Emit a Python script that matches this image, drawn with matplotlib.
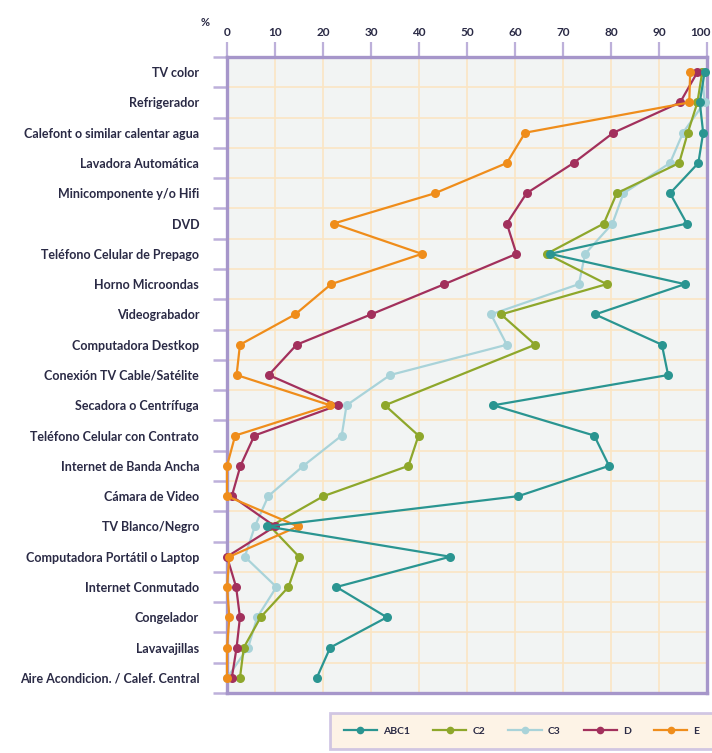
import numpy as np
import matplotlib
matplotlib.use("Agg")
import matplotlib.pyplot as plt
from matplotlib.lines import Line2D
from matplotlib.transforms import ScaledTranslation

categories = [
    "TV color", "Refrigerador", "Calefont o similar calentar agua",
    "Lavadora Automática", "Minicomponente y/o Hifi", "DVD",
    "Teléfono Celular de Prepago", "Horno Microondas", "Videograbador",
    "Computadora Destkop", "Conexión TV Cable/Satélite", "Secadora o Centrífuga",
    "Teléfono Celular con Contrato", "Internet de Banda Ancha", "Cámara de Video",
    "TV Blanco/Negro", "Computadora Portátil o Laptop", "Internet Conmutado",
    "Congelador", "Lavavajillas", "Aire Acondicion. / Calef. Central",
]

abc1 = [99.5, 98.5, 99.2, 98.2, 92.3, 95.8, 67.3, 95.4, 76.7, 90.6, 91.9,
        55.5, 76.5, 79.6, 60.7, 8.3, 46.5, 22.8, 33.3, 21.5, 18.7]
c2 = [99, 98, 96, 94.2, 81.2, 78.5, 66.6, 79.1, 57.1, 64.2, np.nan,
      32.9, 39.9, 37.8, 20.1, 9, 15, 12.8, 7, 3.5, 2.7]
c3 = [99, 99.5, 95, 92.3, 82.6, 80.3, 74.6, 73.3, 55, 58.3, 34,
      24.9, 23.9, 15.9, 8.6, 5.8, 3.7, 10.3, 6.3, 4.4, 0]
d = [98, 94.4, 80.5, 72.2, 62.4, 58.3, 60.3, 45.3, 30, 14.5, 8.7,
     23.1, 5.7, 2.8, 1.0, 10, 0, 1.9, 2.7, 2.0, 1]
e = [96.5, 96.3, 62.1, 58.3, 43.3, 22.2, 40.6, 21.7, 14.2, 2.7, 2.0,
     21.5, 1.7, 0, 0, 14.8, 0.5, 0, 0.5, 0, 0]

series_names = ["ABC1", "C2", "C3", "D", "E"]
series_vals = [abc1, c2, c3, d, e]
colors = ["#2a9591", "#8ea72b", "#a9d3d9", "#a2305c", "#ef8d1b"]
zorders = [7, 5, 4, 5.5, 6]

xticks = [0, 10, 20, 30, 40, 50, 60, 70, 80, 90, 100]

FONT = ["Lato", "DejaVu Sans"]
TXT = "#2a2a45"

W, H = 712, 753
fig = plt.figure(figsize=(W / 100, H / 100), dpi=100)
fig.patch.set_facecolor("white")
ax = fig.add_axes([227 / W, 1 - 693 / H, (707 - 227) / W, (693 - 57) / H])
ax.set_facecolor("#f2f4f3")

y = np.arange(len(categories))
for name, vals, col, z in zip(series_names, series_vals, colors, zorders):
    v = np.array(vals, dtype=float)
    m = ~np.isnan(v)
    ax.plot(v[m], y[m], color=col, lw=1.6, marker="o", ms=6.5,
            markeredgewidth=0, zorder=z, clip_on=False, label=name)

ax.set_xlim(0, 100)
ax.set_ylim(len(categories) - 0.5, -0.5)

frame_col = "#a696ca"
tick_col = "#bdb0da"
for s in ax.spines.values():
    s.set_color(frame_col)
    s.set_linewidth(2.4)

# top x axis
ax.xaxis.tick_top()
ax.set_xticks(xticks)
ax.set_xticklabels([str(t) for t in xticks])
ax.tick_params(axis="x", which="major", direction="out", length=11, width=1.6,
               color=tick_col, pad=3, labelsize=8.5, labelcolor=TXT)

# y axis
ax.set_yticks(y)
ax.set_yticklabels(categories)
ax.set_yticks(np.arange(-0.5, len(categories), 1.0), minor=True)
ax.tick_params(axis="y", which="major", length=0, pad=20, labelsize=9,
               labelcolor=TXT)
ax.tick_params(axis="y", which="minor", direction="out", length=10, width=1.8,
               color=tick_col)

for lab in ax.get_yticklabels() + ax.get_xticklabels():
    lab.set_family(FONT)
    lab.set_fontweight("bold")

# keep the last top label ("100") inside the figure
last = ax.get_xticklabels()[-1]
last.set_horizontalalignment("right")
last.set_transform(last.get_transform() + ScaledTranslation(0.04, 0, fig.dpi_scale_trans))

grid_col = "#fbe5c4"
ax.grid(False)
for t in xticks[1:-1]:
    ax.axvline(t, color=grid_col, lw=1.2, zorder=1)
for b in np.arange(0.5, len(categories) - 1, 1.0):
    ax.axhline(b, color=grid_col, lw=1.2, zorder=1)

fig.text(205 / W, 1 - 22 / H, "%", fontsize=8, color=TXT,
         fontweight="bold", ha="center", va="center", family=FONT)

handles = [Line2D([0], [0], color=c, lw=1.6, marker="o", ms=5.5,
                  markeredgewidth=0) for c in colors]
leg = fig.legend(handles, series_names, loc="upper left",
                 bbox_to_anchor=(330 / W, 1 - 713 / H),
                 ncol=5, frameon=True, fancybox=False,
                 handlelength=3.2, handletextpad=0.6, columnspacing=2.2,
                 borderaxespad=0, borderpad=1.3,
                 prop={"family": FONT, "weight": "bold", "size": 7.5})
leg.get_frame().set_facecolor("#fdf0e0")
leg.get_frame().set_edgecolor("#c6badf")
leg.get_frame().set_linewidth(2)
for t in leg.get_texts():
    t.set_color(TXT)

fig.savefig("out.png", dpi=100, facecolor="white")
